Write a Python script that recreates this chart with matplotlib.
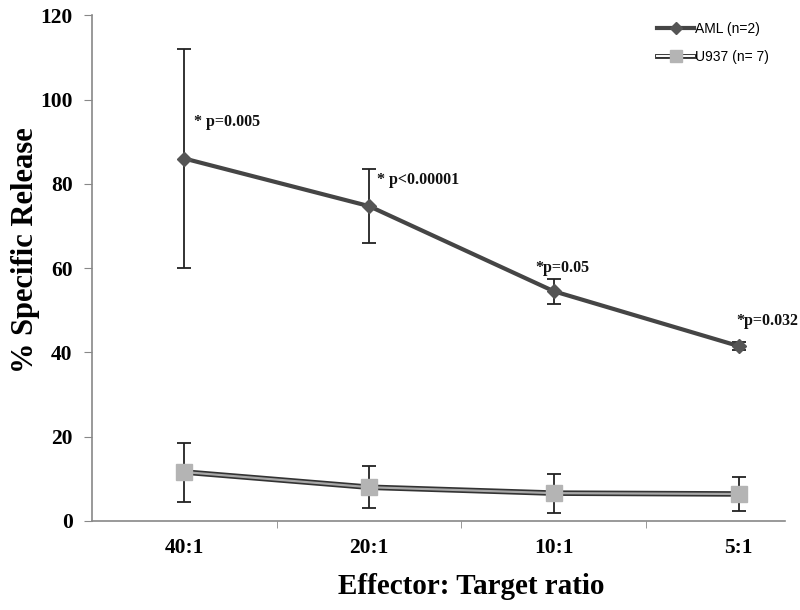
import matplotlib
matplotlib.use("Agg")
import matplotlib.pyplot as plt
from matplotlib.lines import Line2D
from matplotlib.legend_handler import HandlerTuple
import numpy as np

categories = ["40:1", "20:1", "10:1", "5:1"]
aml_mean = [86.0, 74.7, 54.5, 41.5]
aml_err = [26.0, 8.7, 3.0, 1.0]
u937_mean = [11.6, 8.0, 6.6, 6.4]
u937_err = [7.0, 5.0, 4.6, 4.0]
pvals = ["* p=0.005", "* p<0.00001", "*p=0.05", "*p=0.032"]
p_pos = [(0.05, 94.6), (1.04, 80.9), (1.9, 60.0), (2.99, 47.4)]

serif = ["Liberation Serif", "DejaVu Serif"]
sans = ["Liberation Sans", "DejaVu Sans"]

fig = plt.figure(figsize=(8, 6.1), dpi=100)
ax = fig.add_axes([0.115, 0.146, 0.866, 0.829])

x = np.arange(len(categories))
dark = "#454545"

# AML
ax.errorbar(x, aml_mean, yerr=aml_err, fmt="none", ecolor="#222222",
            elinewidth=1.3, capsize=5, capthick=1.3, zorder=2)
ax.plot(x, aml_mean, color=dark, lw=3, marker="D", ms=7,
        mfc="#555555", mec="#555555", zorder=3)

# U937 (double line)
ax.errorbar(x, u937_mean, yerr=u937_err, fmt="none", ecolor="#222222",
            elinewidth=1.3, capsize=5, capthick=1.3, zorder=2)
ax.plot(x, u937_mean, color="#333333", lw=4, zorder=3)
ax.plot(x, u937_mean, color="#a8a8a8", lw=1.6, zorder=4)
ax.plot(x, u937_mean, ls="none", marker="s", ms=11,
        mfc="#b4b4b4", mec="#b4b4b4", zorder=5)

for txt, (px, py) in zip(pvals, p_pos):
    ax.text(px, py, txt, family=serif, fontweight="bold", fontsize=11.5,
            ha="left", va="center", color="#111111")

ax.set_xlim(-0.5, 3.25)
ax.set_ylim(0, 120)
ax.set_yticks(np.arange(0, 121, 20))
ax.set_xticks(x)
ax.set_xticklabels(categories)
ax.set_xticks(np.arange(0.5, 3, 1), minor=True)
ax.tick_params(axis="x", which="major", length=0, pad=12)
ax.tick_params(axis="x", which="minor", length=5, color="#888888", direction="out")
ax.tick_params(axis="y", length=6, color="#888888", direction="out", pad=8)
for lab in ax.get_xticklabels() + ax.get_yticklabels():
    lab.set_family(serif)
    lab.set_fontweight("bold")
    lab.set_fontsize(15.5)

for s in ["top", "right"]:
    ax.spines[s].set_visible(False)
for s in ["left", "bottom"]:
    ax.spines[s].set_color("#888888")
    ax.spines[s].set_linewidth(1.2)

fig.text(26 / 800, 1 - 250 / 610, "% Specific Release", family=serif,
         fontweight="bold", fontsize=22, rotation=90, ha="center", va="center")
fig.text(471 / 800, 1 - 586 / 610, "Effector: Target ratio", family=serif,
         fontweight="bold", fontsize=21, ha="center", va="center")

h1 = Line2D([], [], color=dark, lw=3, marker="D", ms=6,
            mfc="#555555", mec="#555555")
h2a = Line2D([], [], color="#333333", lw=3.5)
h2b = Line2D([], [], color="#ffffff", lw=1.4)
h2c = Line2D([], [], ls="none", marker="s", ms=8, mfc="#b4b4b4", mec="#b4b4b4")
leg = ax.legend([h1, (h2a, h2b, h2c)], ["AML (n=2)", "U937 (n= 7)"],
                loc="upper right", bbox_to_anchor=(0.995, 1.012), frameon=False,
                prop={"family": sans, "size": 10}, handlelength=2.6,
                labelspacing=1.05, handletextpad=0.1,
                handler_map={tuple: HandlerTuple(ndivide=1)})

fig.savefig("out.png", dpi=100)
